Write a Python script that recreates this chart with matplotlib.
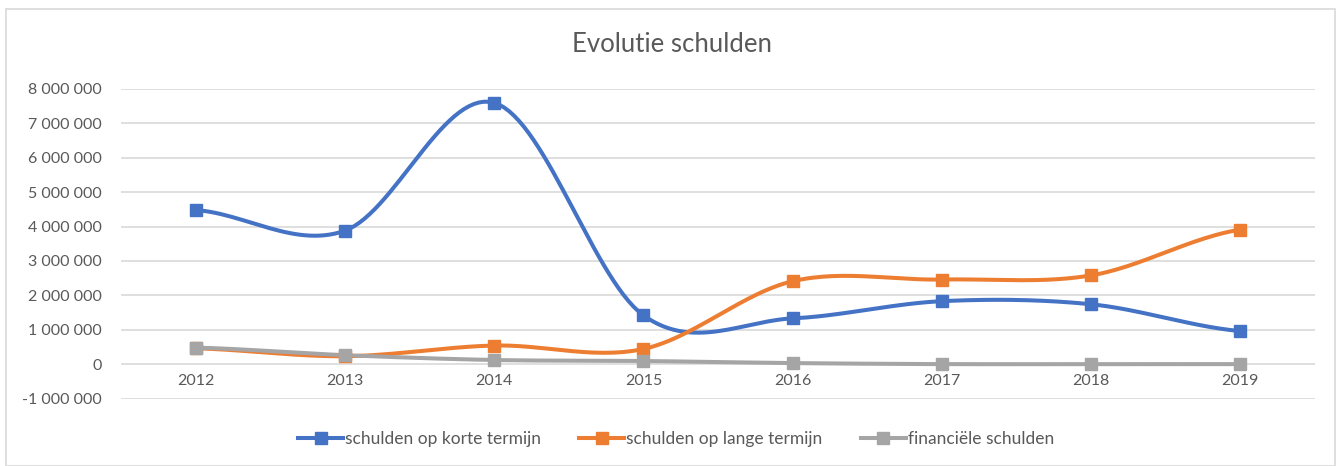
import numpy as np
import matplotlib
matplotlib.use("Agg")
import matplotlib.pyplot as plt
from matplotlib.ticker import FuncFormatter
from matplotlib.patches import Rectangle

years = ["2012", "2013", "2014", "2015", "2016", "2017", "2018", "2019"]
korte_termijn = [4480000, 3880000, 7600000, 1420000, 1330000, 1830000, 1740000, 960000]
lange_termijn = [460000, 230000, 540000, 440000, 2410000, 2460000, 2580000, 3910000]
financiele = [480000, 260000, 120000, 90000, 30000, 0, 0, 0]

series_names = ["schulden op korte termijn", "schulden op lange termijn", "financiële schulden"]
series_colors = ["#4472C4", "#ED7D31", "#A5A5A5"]

TEXT = "#595959"
plt.rcParams["font.family"] = ["Lato", "DejaVu Sans"]


def smooth(values, steps=30):
    # Excel-style smoothed line: Bezier segments with Catmull-Rom control points
    p = np.asarray(values, dtype=float)
    n = len(p)
    xs, ys = [], []
    for i in range(n - 1):
        p0 = p[i - 1] if i > 0 else p[i]
        p3 = p[i + 2] if i + 2 < n else p[i + 1]
        b0, b3 = p[i], p[i + 1]
        b1 = b0 + (b3 - p0) / 6.0
        b2 = b3 - (p3 - b0) / 6.0
        t = np.linspace(0, 1, steps, endpoint=(i == n - 2))
        ys.append((1 - t) ** 3 * b0 + 3 * (1 - t) ** 2 * t * b1 + 3 * (1 - t) * t ** 2 * b2 + t ** 3 * b3)
        xs.append(i + t)
    return np.concatenate(xs), np.concatenate(ys)


fig = plt.figure(figsize=(13.41, 4.66), dpi=100)
W, H = 1341, 466
ax = fig.add_axes([121 / W, (H - 398.5) / H, (1315 - 121) / W, (398.5 - 89) / H])

# light chart border
fig.add_artist(Rectangle((6 / W, 0), 1329 / W, (H - 9) / H, transform=fig.transFigure,
                         fill=False, edgecolor="#D9D9D9", linewidth=1.2))

x = np.arange(len(years))
for vals, name, color in zip([korte_termijn, lange_termijn, financiele], series_names, series_colors):
    sx, sy = smooth(vals)
    ax.plot(sx, sy, color=color, linewidth=2.9, solid_capstyle="round", zorder=3)
    ax.plot(x, vals, linestyle="none", marker="s", markersize=8, color=color, zorder=4)

ax.set_xlim(-0.5, len(years) - 0.5)
ax.set_ylim(-1000000, 8000000)
ax.set_yticks(np.arange(-1000000, 8000001, 1000000))
ax.yaxis.set_major_formatter(FuncFormatter(lambda v, _: f"{int(v):,}".replace(",", " ")))
ax.set_xticks(x)
ax.set_xticklabels(years)

ax.grid(axis="y", color="#D9D9D9", linewidth=1.2)
ax.set_axisbelow(True)
for side in ["left", "right", "top"]:
    ax.spines[side].set_visible(False)
ax.spines["bottom"].set_position(("data", 0))
ax.spines["bottom"].set_visible(False)
ax.tick_params(axis="both", length=0, colors=TEXT, labelsize=11.5)
ax.tick_params(axis="y", pad=14)
ax.tick_params(axis="x", pad=7)

fig.text(672 / W, 1 - 45 / H, "Evolutie schulden", ha="center", va="center", fontsize=18.5, color=TEXT)

handles = [plt.Line2D([], [], color=c, linewidth=2.9, marker="s", markersize=8) for c in series_colors]
fig.legend(handles, series_names, loc="center", bbox_to_anchor=(676 / W, 1 - 439 / H), ncol=3,
           frameon=False, fontsize=12.5, labelcolor=TEXT, handlelength=2.6, handletextpad=0.1,
           columnspacing=2.2)

fig.savefig("out.png", dpi=100)
